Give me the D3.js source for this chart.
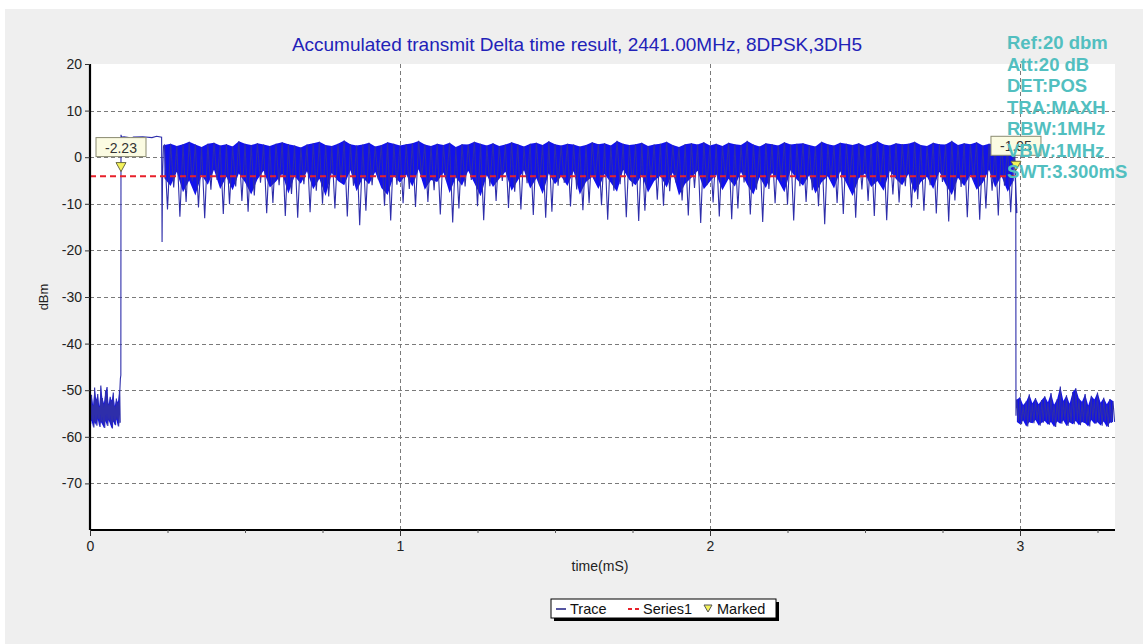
<!DOCTYPE html>
<html>
<head>
<meta charset="utf-8">
<script src="https://cdn.jsdelivr.net/npm/d3@7"></script>
<style>
  body { margin: 0; background: #fff; }
  svg { display: block; font-family: "Liberation Sans", Arial, sans-serif; }
</style>
</head>
<body>
<div id="chart"></div>
<script>
// ---- data ----
const titleText = 'Accumulated transmit Delta time result, 2441.00MHz, 8DPSK,3DH5';
const infoLines = ['Ref:20 dbm', 'Att:20 dB', 'DET:POS', 'TRA:MAXH', 'RBW:1MHz', 'VBW:1MHz', 'SWT:3.300mS'];
const yTickValues = [20, 10, 0, -10, -20, -30, -40, -50, -60, -70];
const xTickValues = [0, 1, 2, 3];

// noise floor before the burst (0 .. 0.095 ms, step 0.005)
const leadStart = 0, leadStep = 0.005;
const leadHi = [-52.5, -51.0, -53.2, -49.4, -52.0, -50.8, -53.5, -49.0, -51.7, -52.8, -50.2, -49.3, -53.0, -51.4, -52.2, -50.5, -53.4, -51.8, -52.6, -50.0];
const leadLo = [-57.2, -56.5, -58.0, -56.9, -57.6, -56.2, -57.9, -56.8, -57.4, -58.1, -56.6, -57.7, -56.4, -57.3, -58.2, -56.7, -57.5, -56.3, -57.8, -57.0];

// rising edge, flat preamble and the dip before the payload
const riseT = [0.096, 0.098, 0.0995, 0.1, 0.102, 0.11, 0.125, 0.13, 0.14, 0.17, 0.2, 0.215, 0.231, 0.2325, 0.234, 0.237];
const riseV = [-50.5, -47.5, -46.8, 4.8, 4.3, 4.4, 4.2, 3.9, 4.3, 4.4, 4.2, 4.5, 4.3, -18.2, -4.0, 2.4];

// payload burst (0.24 .. 2.98 ms, step 0.02): top, body bottom, spike depth
const burstStart = 0.24, burstStep = 0.02;
const burstHi = [2.6, 2.9, 2.4, 2.8, 3.3, 2.7, 2.2, 2.9, 3.1, 2.5, 2.8, 2.3, 3.4, 2.9, 2.6, 3.0, 2.7, 2.4, 2.9, 3.2,
  2.8, 2.5, 2.1, 2.7, 3.0, 3.3, 2.6, 2.4, 2.9, 3.6, 2.8, 2.5, 2.7, 3.1, 2.3, 2.6, 3.2, 2.9, 2.5, 2.8,
  3.0, 3.5, 2.7, 2.4, 2.9, 2.6, 3.1, 2.2, 2.8, 2.7, 3.3, 2.9, 2.5, 3.0, 2.4, 2.7, 3.2, 2.8, 2.3, 2.9,
  3.1, 2.6, 3.4, 2.8, 2.5, 2.9, 2.7, 2.3, 2.6, 3.2, 2.8, 3.0, 2.5, 3.5, 2.9, 2.6, 2.8, 3.1, 2.4, 2.7,
  2.9, 3.3, 2.6, 2.2, 2.8, 3.0, 2.7, 3.2, 2.5, 2.9, 2.4, 3.1, 2.8, 2.6, 3.5, 2.7, 2.3, 3.0, 2.8, 2.5,
  3.2, 2.7, 2.9, 3.0, 2.6, 2.3, 3.3, 2.8, 2.5, 3.1, 2.9, 2.6, 3.0, 2.4, 2.8, 3.4, 2.7, 2.5, 3.0, 2.8,
  2.9, 3.3, 2.6, 2.4, 3.1, 2.8, 2.7, 3.5, 2.6, 3.0, 2.8, 3.2, 2.5, 2.9, 2.7, 3.3, 2.1, 1.8];
const burstLo = [-4.5, -6.2, -3.1, -7.5, -5.0, -8.2, -3.8, -5.9, -2.7, -6.8, -4.2, -7.1, -3.5, -5.4, -8.0, -4.8, -2.9, -6.5, -5.2, -3.6,
  -7.8, -4.1, -5.7, -3.0, -6.9, -4.6, -8.3, -3.4, -5.1, -6.0, -2.8, -7.3, -4.4, -5.8, -3.2, -6.6, -8.1, -4.0, -5.5, -3.7,
  -6.3, -2.6, -7.0, -4.9, -5.3, -3.3, -7.7, -4.3, -6.1, -2.9, -5.6, -8.4, -3.9, -6.4, -4.7, -3.1, -7.2, -5.0, -2.8, -6.7,
  -4.5, -7.9, -3.5, -5.8, -4.1, -6.2, -3.0, -8.0, -5.3, -4.2, -6.8, -3.6, -5.5, -7.4, -2.7, -4.9, -6.0, -3.8, -7.6, -5.1,
  -4.0, -6.5, -3.3, -8.2, -5.7, -4.4, -2.9, -6.9, -5.2, -3.7, -7.1, -4.6, -6.3, -3.2, -5.9, -8.0, -4.3, -6.6, -3.4, -5.0,
  -7.5, -2.8, -4.8, -6.1, -3.9, -7.8, -5.4, -4.1, -6.7, -3.0, -5.6, -8.3, -4.5, -3.5, -6.4, -5.1, -7.2, -2.9, -4.7, -6.0,
  -3.6, -7.7, -5.3, -4.2, -6.8, -3.1, -5.8, -8.1, -4.4, -6.2, -3.8, -7.0, -5.5, -2.7, -6.5, -4.0, -7.4, -5.0];
const burstDeep = [-11.2, -6.5, -12.8, -9.6, -5.2, -10.8, -13.1, -7.0, -4.9, -12.2, -10.1, -6.3, -9.4, -11.7, -8.2, -5.5, -12.0, -9.8, -6.0, -12.6,
  -7.9, -13.0, -5.8, -11.8, -7.2, -10.0, -8.4, -11.0, -5.3, -12.7, -6.1, -14.6, -11.5, -6.0, -4.8, -10.4, -13.6, -5.9, -9.9, -6.8,
  -10.7, -4.4, -9.6, -7.1, -12.3, -5.0, -14.0, -11.0, -6.3, -4.9, -10.5, -13.5, -6.2, -9.4, -5.1, -10.9, -7.4, -11.2, -5.6, -12.4,
  -6.0, -13.0, -11.7, -6.1, -5.5, -10.6, -6.9, -11.4, -9.9, -5.0, -10.3, -13.4, -7.2, -5.8, -12.9, -6.3, -13.7, -11.5, -4.9, -9.1,
  -10.4, -7.3, -5.4, -9.3, -12.5, -6.6, -14.1, -6.0, -9.7, -12.7, -5.0, -13.3, -11.0, -5.4, -12.3, -7.0, -13.9, -6.8, -9.9, -5.2,
  -10.2, -13.6, -6.2, -9.6, -7.1, -10.5, -14.4, -5.0, -9.8, -12.2, -5.8, -13.0, -6.9, -9.4, -12.6, -5.3, -13.5, -8.0, -9.7, -6.2,
  -10.8, -9.0, -11.5, -6.0, -12.1, -5.3, -13.8, -9.3, -6.4, -12.9, -5.0, -13.4, -11.0, -7.2, -12.5, -6.1, -11.8, -12.0];

// falling edge
const fallT = [2.982, 2.985, 2.9865, 2.987, 2.989];
const fallV = [1.5, -1.95, -12.0, -55.5, -52.5];

// noise floor after the burst (2.99 .. 3.30 ms, step 0.01)
const tailStart = 2.99, tailStep = 0.01;
const tailHi = [-52.0, -51.5, -53.2, -52.4, -50.9, -52.8, -51.7, -53.0, -52.1, -51.3, -52.6, -50.6, -53.1, -51.9, -49.2, -52.3, -51.1, -52.9, -50.4, -49.6, -51.8, -52.5, -50.8, -53.3, -51.2, -52.0, -50.5, -52.7, -51.6, -53.0, -51.9, -52.3];
const tailLo = [-56.8, -57.3, -56.5, -57.8, -56.9, -57.1, -56.4, -57.6, -57.0, -56.6, -57.4, -56.8, -57.9, -56.7, -57.2, -56.5, -57.7, -56.9, -57.3, -56.6, -57.5, -56.8, -57.1, -57.8, -56.4, -57.2, -56.9, -57.6, -56.7, -57.9, -57.0, -56.8];

// Series1 (threshold) and markers
const series1T = [0, 2.987];
const series1V = [-4.1, -4.1];
const markerT = [0.1, 2.987];
const markerV = [-2.23, -1.95];
const markerLabels = ['-2.23', '-1.95'];

// ---- layout ----
const W = 1147, H = 644;
const plot = { left: 90, right: 1115, top: 64, bottom: 530 };

const svg = d3.select('#chart').append('svg')
    .attr('width', W)
    .attr('height', H);

svg.append('rect').attr('width', W).attr('height', H).attr('fill', '#ffffff');
svg.append('rect') // grey panel
    .attr('x', 5).attr('y', 9)
    .attr('width', 1138).attr('height', H - 9)
    .attr('fill', '#efefef');
svg.append('rect') // plot area
    .attr('x', plot.left).attr('y', plot.top)
    .attr('width', plot.right - plot.left).attr('height', plot.bottom - plot.top)
    .attr('fill', '#ffffff');

const x = d3.scaleLinear().domain([0, (plot.right - plot.left) / 310]).range([plot.left, plot.right]);
const y = d3.scaleLinear().domain([-80, 20]).range([plot.bottom, plot.top]);

// grid
const grid = svg.append('g').attr('stroke', '#7a7a7a').attr('stroke-width', 1).attr('stroke-dasharray', '4,3');
grid.selectAll('.hg')
    .data(yTickValues.filter(v => v < 20))
    .enter().append('line')
    .attr('x1', plot.left).attr('x2', plot.right)
    .attr('y1', d => Math.round(y(d)) + 0.5).attr('y2', d => Math.round(y(d)) + 0.5);
grid.selectAll('.vg')
    .data(xTickValues.filter(v => v > 0))
    .enter().append('line')
    .attr('y1', plot.top).attr('y2', plot.bottom)
    .attr('x1', d => Math.round(x(d)) + 0.5).attr('x2', d => Math.round(x(d)) + 0.5);

// ---- trace ----
const area = d3.area()
    .x(d => x(d.t))
    .y0(d => y(d.lo))
    .y1(d => y(d.hi));

const leadPts = leadHi.map((v, i) => ({ t: leadStart + i * leadStep, hi: v, lo: leadLo[i] }));
const burstPts = burstHi.map((v, i) => ({ t: burstStart + i * burstStep, hi: v, lo: burstLo[i] }));
const tailPts = tailHi.map((v, i) => ({ t: tailStart + i * tailStep, hi: v, lo: tailLo[i] }));

const bandColor = '#1212ec';
[leadPts, burstPts, tailPts].forEach(pts => {
    svg.append('path')
        .datum(pts)
        .attr('d', area)
        .attr('fill', bandColor);
});

// full trace polyline (zig-zag through top and bottom of each bin)
let trace = [];
leadPts.forEach(p => { trace.push([p.t, p.hi]); trace.push([p.t + leadStep / 2, p.lo]); });
riseT.forEach((t, i) => trace.push([t, riseV[i]]));
burstPts.forEach((p, i) => { trace.push([p.t, p.hi]); trace.push([p.t + burstStep / 2, burstDeep[i]]); });
fallT.forEach((t, i) => trace.push([t, fallV[i]]));
tailPts.forEach(p => { trace.push([p.t, p.hi]); trace.push([p.t + tailStep / 2, p.lo]); });

const line = d3.line().x(d => x(d[0])).y(d => y(d[1]));
svg.append('path')
    .datum(trace)
    .attr('d', line)
    .attr('fill', 'none')
    .attr('stroke', '#2e2eaa')
    .attr('stroke-width', 1.1);

// Series1 dashed red threshold
svg.append('path')
    .datum(series1T.map((t, i) => [t, series1V[i]]))
    .attr('d', line)
    .attr('fill', 'none')
    .attr('stroke', '#e8202a')
    .attr('stroke-width', 2)
    .attr('stroke-dasharray', '6,4');

// ---- axes ----
const fmt = d => String(d); // plain hyphen-minus like the original
const yAxis = d3.axisLeft(y).tickValues(yTickValues).tickSize(5).tickFormat(fmt);
const gy = svg.append('g').attr('transform', `translate(${plot.left},0)`).call(yAxis);
const xAxis = d3.axisBottom(x).tickValues(xTickValues).tickSize(6).tickFormat(fmt);
const gx = svg.append('g').attr('transform', `translate(0,${plot.bottom})`).call(xAxis);
// minor ticks on x
svg.append('g').attr('transform', `translate(0,${plot.bottom})`)
    .call(d3.axisBottom(x).tickValues(d3.range(0.25, 3.3, 0.25).filter(v => v % 1 !== 0)).tickSize(3).tickFormat(''))
    .call(g => g.select('.domain').remove())
    .selectAll('line').attr('stroke', '#555');

[gx, gy].forEach(g => {
    g.select('.domain').attr('stroke', '#000').attr('stroke-width', 2.2);
    g.selectAll('.tick line').attr('stroke', '#333');
    g.selectAll('.tick text')
        .attr('font-size', 14)
        .attr('fill', '#222')
        .attr('font-family', '"Liberation Sans", Arial, sans-serif');
});
gy.selectAll('.tick text').attr('x', -8);
gx.selectAll('.tick text').attr('y', 11);
gx.select('.domain').attr('d', `M${plot.left},0H${plot.right}`);
gy.select('.domain').attr('d', `M0,${plot.top}V${plot.bottom}`);

// axis titles
svg.append('text')
    .attr('x', 600).attr('y', 571)
    .attr('text-anchor', 'middle')
    .attr('font-size', 14)
    .attr('fill', '#222')
    .text('time(mS)');
svg.append('text')
    .attr('transform', 'translate(48,297) rotate(-90)')
    .attr('text-anchor', 'middle')
    .attr('font-size', 13)
    .attr('fill', '#222')
    .text('dBm');

// title
svg.append('text')
    .attr('x', 577).attr('y', 51)
    .attr('text-anchor', 'middle')
    .attr('font-size', 19)
    .attr('fill', '#2222b8')
    .text(titleText);

// ---- markers ----
const markers = svg.append('g');
markerT.forEach((t, i) => {
    const mx = x(t), my = y(markerV[i]);
    const g = markers.append('g');
    g.append('rect')
        .attr('x', mx - 25).attr('y', my - 30)
        .attr('width', 50).attr('height', 19)
        .attr('fill', '#fbfbe2')
        .attr('stroke', '#8a8a70');
    g.append('text')
        .attr('x', mx).attr('y', my - 15)
        .attr('text-anchor', 'middle')
        .attr('font-size', 14)
        .attr('fill', '#333')
        .text(markerLabels[i]);
    g.append('path')
        .attr('d', `M${mx - 5},${my - 5}L${mx + 5},${my - 5}L${mx},${my + 4}Z`)
        .attr('fill', '#f4f25a')
        .attr('stroke', '#6a6a40');
});

// ---- instrument settings text ----
svg.append('g').selectAll('text')
    .data(infoLines)
    .enter().append('text')
    .attr('x', 1007)
    .attr('y', (d, i) => 49 + i * 21.5)
    .attr('font-size', 18.5)
    .attr('font-weight', 'bold')
    .attr('fill', '#52bfc0')
    .text(d => d);

// ---- legend ----
const lg = svg.append('g').attr('transform', 'translate(551,599)');
lg.append('rect').attr('x', 3).attr('y', 3).attr('width', 225).attr('height', 19).attr('fill', '#000');
lg.append('rect').attr('x', 0).attr('y', 0).attr('width', 225).attr('height', 19)
    .attr('fill', '#ffffff').attr('stroke', '#000');
lg.append('line').attr('x1', 5).attr('x2', 15).attr('y1', 10).attr('y2', 10).attr('stroke', '#1c1c80').attr('stroke-width', 1.5);
lg.append('text').attr('x', 19).attr('y', 15).attr('font-size', 14.5).attr('fill', '#111').text('Trace');
lg.append('line').attr('x1', 77).attr('x2', 90).attr('y1', 10).attr('y2', 10)
    .attr('stroke', '#e8202a').attr('stroke-width', 2).attr('stroke-dasharray', '4,3');
lg.append('text').attr('x', 92).attr('y', 15).attr('font-size', 14.5).attr('fill', '#111').text('Series1');
lg.append('path').attr('d', 'M153,6L161,6L157,13Z').attr('fill', '#f4f25a').attr('stroke', '#555');
lg.append('text').attr('x', 166).attr('y', 15).attr('font-size', 14.5).attr('fill', '#111').text('Marked');
</script>
</body>
</html>
